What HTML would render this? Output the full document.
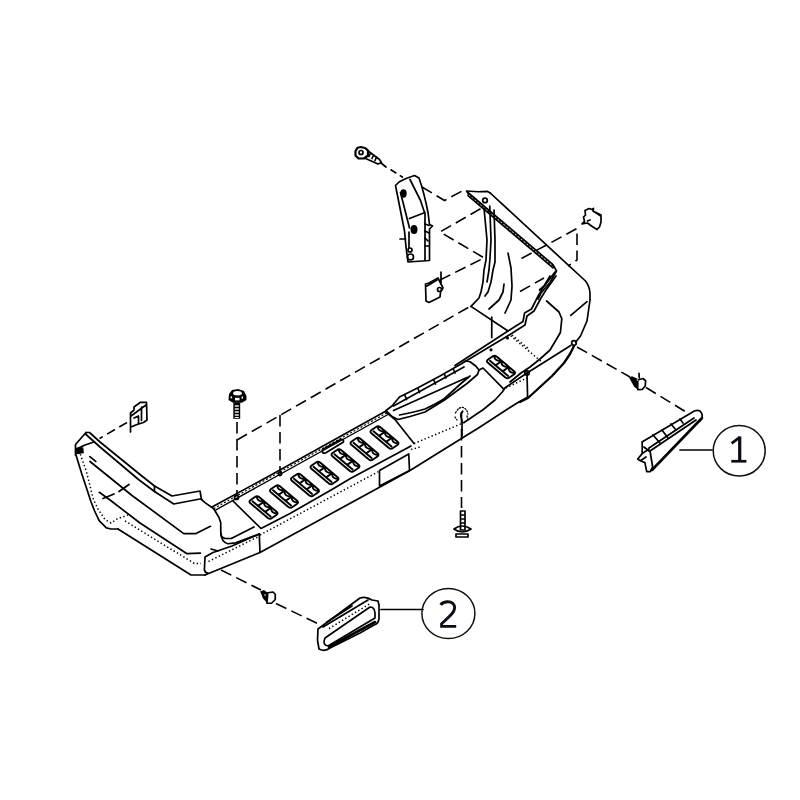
<!DOCTYPE html>
<html><head><meta charset="utf-8"><style>
html,body{margin:0;padding:0;background:#fff;width:800px;height:800px;overflow:hidden}
svg{display:block}
</style></head><body>
<svg width="800" height="800" viewBox="0 0 800 800">
<g fill="none" stroke="#000" stroke-width="1.7" stroke-linejoin="round" stroke-linecap="round">
<!-- LEFT END -->
<path d="M86,432.5 L75.5,444.5 L75.5,455 M76.5,449 L85,445 L94,442"/>
<path d="M76,448.5 L82.5,448 L83,452.5 L77,453.5 Z" fill="#000"/>
<path d="M76,455 L81.5,473 L86.3,487.5 L91,501.8 L94.6,511 L99.3,520.8 L106.4,527.9 L111,529 L118,529"/>
<path d="M118,529 L191,575 L205,575"/>
<path d="M86,432.5 L89.5,432.5 L100,442 L140,474.5 L154.5,486 M85.5,434 L100,447 L138.5,479.5 L154.5,491.5 M154.5,486 L154.5,491.5"/>
<path d="M154.5,486 L172,496 L200,491 L201.5,499.5 M154.5,491.5 L173.75,504 L200,499"/>
<path d="M201.5,499.5 L205,502.6 L213.75,508.75 L219,517.5 L220.75,522.75 L220.75,532.4 L221.6,536.75 L225,538.5 L231.25,538.5 L254,527"/>
<path d="M220.75,533 Q221.5,542 227.75,543.75 L235.6,542.9 L259.25,534"/>
<path d="M89.8,456.6 L95.75,461.4 M90,461.5 L132,495.5 L183.75,533.6 L196,533.6 L210.5,526.3"/>
<path d="M99.3,492.3 L110,500 L140,523 L187,553.7 L200.4,553.2"/>
<path d="M119,491.5 L129,484.5 M103,498.5 L114,494"/>
<path d="M205,557 L204.4,570 Q205,573 208,573 M205,557 L213,552.5 L232,546 L259.25,534 L260,552.5"/>
<path d="M211,549 L218,551"/>
<!-- STEP -->
<path d="M212,507 L270,475.5 L386,411"/>
<path d="M216,509.8 L388,414.5" stroke-width="1.4"/>
<path d="M214,508.4 L387,412.8" stroke-width="1.2" stroke-dasharray="1 3"/>
<path d="M322.5,449.5 L340.5,439.5 Q344,438.5 343.5,442 L325.5,453 Q321.5,454 322.5,449.5 Z"/>
<circle cx="236.5" cy="497.5" r="2"/><circle cx="280" cy="474" r="1.6"/>
<circle cx="527" cy="373" r="2.2"/><circle cx="574" cy="343" r="2.3"/>
<path d="M233,501 L261,528.5 L290,513.5 L332.4,489.3 L350,478.8 L411,446"/>
<path d="M379.5,470.5 L408.75,454 L409.5,470.5 L379.5,486 Z"/>
<path d="M205,575 L260,552.5 L380,487 L410,470.5 L480,427 L510,407.5 L518.75,402 L528,397"/>
<path d="M520,402 L528,398 L540,387 L552,376 L564,363 L570,354 L574,346" stroke-width="2.3"/>
<!-- HANDLE -->
<path d="M386,410.5 L392,406 L399.5,397 L417.5,388 L440,376 L461,364 L465.5,361 L470,361.75 L476,366.25 L479,370 L477.5,374.5 L467,383.5 L444.5,400 L425,412 L410,416.5 L398,419.5 L392,416.5 Z"/>
<path d="M393.5,406 L464,367 M393.5,410.5 L467,377.5 M399.5,415 Q415,412 425,409 Q438,403 444.5,398.5 L461,383.5 L470,376"/>
<path d="M386,412 L395,419.5 L414,443.5"/>
<path d="M464,422.5 L483,409.75 L495,400 L502.5,391.75 L504.75,388 L527,373 L570.75,345.5"/>
<path d="M479,370 L483,368 L504,389.4"/>
<path d="M527,373 L527.6,397.5"/>
<!-- small clip at bolt -->
<path d="M462.75,411.25 Q459.5,414 462,420.5 L462,436"/>
<path d="M455.5,413 Q459,406.5 463,407.5 Q467,409 468,414 M467,416 L468,420 M455,417 L457,420" stroke-width="1.3" stroke-dasharray="1.2 1.8"/>
<!-- STEP REAR RIGHT -->
<path d="M455,365.5 L508,331 L523,321.5 L524.6,313 L531.5,309 L538.4,295.4 L542.5,288.5 L555,272"/>
<path d="M464.75,361.75 L510,334.5 L525,325 L527,316 L534,311 L541,298 L546,290 L556,276"/>
<path d="M418,388.5 L419.5,392.5 M434,380.5 L435.5,384 M444.5,374.5 L446,378 M453.5,369.5 L455,373 M405,395.5 L406.5,399.5"/>
<path d="M471,306.4 L508,331"/>
<path d="M491.75,317 L491.75,337.5"/>
<!-- RIGHT END -->
<path d="M466.5,191 L478.5,191.75 L487.5,191.4 L490.5,193.25"/>
<path d="M490.5,193.25 L585.5,281 Q589.5,286 590,293 L590,300 L587,321 L580.5,336 L575.6,342.25"/>
<path d="M467,191.75 L553,264.6 L556.5,271 L550,282.5 L541,293 L538,299 M468,195.6 L553,267.8"/>
<path d="M467.5,193.7 L553,266.2" stroke-width="1.1" stroke-dasharray="1.2 2.6"/>
<path d="M550,276 L544,286 L539.5,290"/>
<path d="M484,208 L487,240 L486,260 L484,270 L483,282 L481,292 L479,298 L471,306.4 M494,210 L495,240 L495,262 L493,270 L491,282 L488,292 L485,296 M489.75,206 L491,240 L490,258 L489,270 L487,282"/>
<circle cx="485" cy="200.4" r="2.3"/>
<path d="M508,253 L511,268 L512,286 L511,300 L505,313 M504,284 L503,292 L499,300 L489,309"/>
<path d="M546.6,301 L559,312 L561.8,318.8 L560.4,332.5 L556,340 L550,350 L540,359 L530,367 L521,373 L510,382"/>
<path d="M570.75,315.4 L587,301.6"/>
<!-- BRACKET -->
<path d="M395.5,185.5 L399,182 L406,178.5 L414.5,175.5 L419,178 Q424,192 428,212.5 L429.5,224.5 L432.5,226 L429.5,229 L429.5,260.5 L408,262 L406,247 L404.5,231 Z"/>
<path d="M400.5,192.5 L409.5,228 M410,179.5 L420.5,200.5 L425,214 L425,260.5 M409.5,218.5 L425,212.5 M400,239 L405.5,239 M409,232 L409,248"/>
<path d="M425,224 L429,225.5 M425,231 L429,233 M425,238 L428,241 M425,246 L429,246"/>
<circle cx="410.5" cy="257" r="3"/>
<circle cx="410" cy="250" r="2"/>
<!-- MIDDLE CLIP -->
<path d="M425.5,284 L426,301 L429,302.5 L440,297 L440.5,292 L443,288 L441,284 L438,278 L429,283 Z M441,272 L441,284 M427,286 L437,280"/>
<circle cx="439.5" cy="289.5" r="2"/>
<!-- RIGHT CLIP -->
<path d="M585,210.5 L589,208.5 L592,209.5 L593.5,208.3 L593,211 L601,215 L601,222 L599.5,227 L597,229.5 L591.5,226 L587.5,223 L582,223.8 L584.5,221.5 L583.5,217 L585.5,215 Z M587.5,221 L590,220 M593,211 L600,215.5"/>
<!-- TOP SCREW -->
<path d="M355.5,151 L357.5,147.8 L361,147 L365.5,148.2 L368,150.5 L368,155.5 L364,158.5 L358.5,158.5 L355.5,155.5 Z" fill="#fff" stroke-width="2.2"/>
<path d="M367.5,150.5 L379.5,159.5 L381.5,162.5 L378,164 L364.5,158 M370.5,153 L369,156.5 M373.5,155 L372,158.5 M376.5,157 L375,160.5 M381,163 L386,167"/>
<circle cx="361" cy="152.5" r="2"/>
<!-- BOLT BOTTOM -->
<path d="M460.5,511 L460.5,530 L465,530 L465,511 Z M460.5,515 L465,515 M460.5,519 L465,519 M460.5,523 L465,523"/>
<path d="M454,529 Q462,523 471,529 Q462,535 454,529 Z M456,534 L468,534 L468,537 L456,537 Z"/>
<!-- SCREW RIGHT -->
<path d="M637.75,380 L643,378.5 L645.6,380.75 L645.25,386 L642.25,389.4 L637.75,389.75 Z M639,373.25 L639.25,377.75"/>
<!-- SCREW PART2 -->
<path d="M267.75,592.75 L273,592 L275.25,594.25 L275.25,599.5 L271.5,603.25 L267,603.25 Z"/>
<!-- CLIP LEFT -->
<path d="M130.5,432 L130.5,413 L134,410 L134,407 L140.5,402.3 L146.5,402.3 L147,420 L143.5,422.5 L137,424.5 L131,427 M131,416 L146,405 M141.5,407 L141.5,420.5 M134,418 L138.5,416 L138.5,423.5"/>
<!-- REFLECTOR 1 -->
<path d="M642,442 L691,413 Q696,409 700,411 Q703,414 702,418 L700,421 M642.2,441.9 L642.2,453.6 L637.7,459 L640.4,460.8 L644.9,462.6 L646.7,471.6 L650.3,471.6 L652,468 M642.2,453.6 L649,449 M640.4,460.8 L646,457"/>
<path d="M649,448 L694,418 M650,451 L696,420 M650,451 L653,469"/>
<path d="M653,435 L660,443 M662,430 L668,438 M671,424 L676,430 M680,419 L683,423 M644,447 L649,451"/>
<path d="M652,470 L702,418" stroke-width="2.6"/>
<!-- REFLECTOR 2 -->
<path d="M318,629 L360,598 Q366,596 372,600 L378,601 L379,605 L379,619 Q378,624 374,625 L360,633 L330,648 Q325,652 319,649 L317.5,640 Z"/>
<path d="M325,638 L370,607 Q376,607 375,618 L328,646 Q322,645 325,638 Z"/>
<path d="M323,627 L368,600 M327,622 L352,606"/>
<path d="M329,647 L375,622" stroke-width="2.6"/>
<!-- LEADERS -->
<path d="M680,450 L712,450 M381,609.5 L423,609.5"/>

</g>
<g fill="none" stroke="#000" stroke-width="1.9" stroke-linejoin="round" stroke-linecap="round">
<path d="M259.1,497.1 L276.6,511.8 Q278.6,513.5 276.4,515.0 L272.0,518.0 Q269.9,519.5 267.9,517.9 L250.4,503.2 Q248.4,501.5 250.6,500.0 L255.0,497.0 Q257.1,495.5 259.1,497.1 Z M252.5,501.3 L270.6,516.5 M264.3,501.5 L258.0,505.9 M271.4,507.5 L265.1,511.9 M256.9,497.0 Q257.1,501.0 262.2,501.5 M264.0,503.0 Q264.2,507.0 269.4,507.5 M271.2,509.0 Q271.4,513.0 276.5,513.5"/>
<path d="M279.6,486.1 L297.1,500.8 Q299.1,502.5 296.9,504.0 L292.5,507.0 Q290.4,508.5 288.4,506.9 L270.9,492.2 Q268.9,490.5 271.1,489.0 L275.5,486.0 Q277.6,484.5 279.6,486.1 Z M273.0,490.3 L291.1,505.5 M284.8,490.5 L278.5,494.9 M291.9,496.5 L285.6,500.9 M277.4,486.0 Q277.6,490.0 282.7,490.5 M284.5,492.0 Q284.7,496.0 289.9,496.5 M291.7,498.0 Q291.9,502.0 297.0,502.5"/>
<path d="M300.6,474.6 L318.1,489.3 Q320.1,491.0 317.9,492.5 L313.5,495.5 Q311.4,497.0 309.4,495.4 L291.9,480.7 Q289.9,479.0 292.1,477.5 L296.5,474.5 Q298.6,473.0 300.6,474.6 Z M294.0,478.8 L312.1,494.0 M305.8,479.0 L299.5,483.4 M312.9,485.0 L306.6,489.4 M298.4,474.5 Q298.6,478.5 303.7,479.0 M305.5,480.5 Q305.7,484.5 310.9,485.0 M312.7,486.5 Q312.9,490.5 318.0,491.0"/>
<path d="M320.1,462.6 L337.6,477.3 Q339.6,479.0 337.4,480.5 L333.0,483.5 Q330.9,485.0 328.9,483.4 L311.4,468.7 Q309.4,467.0 311.6,465.5 L316.0,462.5 Q318.1,461.0 320.1,462.6 Z M313.5,466.8 L331.6,482.0 M325.3,467.0 L319.0,471.4 M332.4,473.0 L326.1,477.4 M317.9,462.5 Q318.1,466.5 323.2,467.0 M325.0,468.5 Q325.2,472.5 330.4,473.0 M332.2,474.5 Q332.4,478.5 337.5,479.0"/>
<path d="M341.1,450.1 L358.6,464.8 Q360.6,466.5 358.4,468.0 L354.0,471.0 Q351.9,472.5 349.9,470.9 L332.4,456.2 Q330.4,454.5 332.6,453.0 L337.0,450.0 Q339.1,448.5 341.1,450.1 Z M334.5,454.3 L352.6,469.5 M346.3,454.5 L340.0,458.9 M353.4,460.5 L347.1,464.9 M338.9,450.0 Q339.1,454.0 344.2,454.5 M346.0,456.0 Q346.2,460.0 351.4,460.5 M353.2,462.0 Q353.4,466.0 358.5,466.5"/>
<path d="M360.1,438.6 L377.6,453.3 Q379.6,455.0 377.4,456.5 L373.0,459.5 Q370.9,461.0 368.9,459.4 L351.4,444.7 Q349.4,443.0 351.6,441.5 L356.0,438.5 Q358.1,437.0 360.1,438.6 Z M353.5,442.8 L371.6,458.0 M365.3,443.0 L359.0,447.4 M372.4,449.0 L366.1,453.4 M357.9,438.5 Q358.1,442.5 363.2,443.0 M365.0,444.5 Q365.2,448.5 370.4,449.0 M372.2,450.5 Q372.4,454.5 377.5,455.0"/>
<path d="M380.1,427.1 L397.6,441.8 Q399.6,443.5 397.4,445.0 L393.0,448.0 Q390.9,449.5 388.9,447.9 L371.4,433.2 Q369.4,431.5 371.6,430.0 L376.0,427.0 Q378.1,425.5 380.1,427.1 Z M373.5,431.3 L391.6,446.5 M385.3,431.5 L379.0,435.9 M392.4,437.5 L386.1,441.9 M377.9,427.0 Q378.1,431.0 383.2,431.5 M385.0,433.0 Q385.2,437.0 390.4,437.5 M392.2,439.0 Q392.4,443.0 397.5,443.5"/>
<path d="M496.6,356.6 L514.1,371.3 Q516.1,373.0 513.9,374.5 L509.5,377.5 Q507.4,379.0 505.4,377.4 L487.9,362.7 Q485.9,361.0 488.1,359.5 L492.5,356.5 Q494.6,355.0 496.6,356.6 Z M490.0,360.8 L508.1,376.0 M501.8,361.0 L495.5,365.4 M508.9,367.0 L502.6,371.4 M494.4,356.5 Q494.6,360.5 499.7,361.0 M501.5,362.5 Q501.7,366.5 506.9,367.0 M508.7,368.5 Q508.9,372.5 514.0,373.0"/>
</g>
<g fill="none" stroke="#000" stroke-width="1.6" stroke-dasharray="11.5 5.5">
<path d="M390.5,169.5 L403,177.5" stroke-dasharray="7 4"/>
<path d="M422,187 L444.5,200.5 L464,190"/>
<path d="M480.5,208.75 L440,232 L483.5,257.5"/>
<path d="M440,280 L482,259"/>
<path d="M521.5,258.5 L577,228.5 L577,260 L568,266"/>
<path d="M520,291.5 L544,278"/>
<path d="M237,440 L469,307"/>
<path d="M237,422 L237,495"/>
<path d="M280,415 L280,472"/>
<path d="M461.5,412 L461.5,508"/>
<path d="M127,422.5 L99.5,438.5" stroke-dasharray="9 5"/>
<path d="M577,347 L630,377 M646,387.5 L686,412"/>
<path d="M221,570 L261,590 M276,603.5 L319.5,624.5"/>

</g>
<g fill="none" stroke="#000" stroke-width="1.5" stroke-dasharray="1.4 2.4">
<path d="M79,450.7 L86.25,471 L89.8,485 L93.4,499.4 L98,509 L105,519.6 L111,523 L117,519 L128,515"/>
<path d="M125,521 L194.25,563.4 L201,563.4"/>
<path d="M260,535 L379.5,471"/>
<path d="M411,449.5 L420,447"/>
<path d="M414,443.5 L450,428.5 L464,422.5"/>
<path d="M505.75,388 L527,378"/>
<path d="M510.6,335.75 L541.5,361.75"/>
<path d="M512,335 L528.75,349"/>
<path d="M208.5,561.5 L259.5,536"/>
<path d="M329,628.5 L371,603"/>

</g>
<g fill="#000" stroke="none">
<!-- top screw -->
<ellipse cx="403.5" cy="193.5" rx="3.2" ry="4.2"/>
<ellipse cx="414" cy="229.5" rx="3.5" ry="4.5"/>
<!-- bolt left -->
<path d="M229,394 L232,390 L238,389 L244,391 L246.5,396 L246.5,400 L242,402.8 L233,402.8 L228.5,400 Z"/>
<path d="M233.3,402.5 L240.2,402.5 L240.2,418.8 L233.3,418.8 Z"/>
<!-- screw right wedge -->
<path d="M629,377.5 L632,376.3 L638.2,379 L637.8,389.8 L634,386.5 Z"/>
<!-- screw part2 wedge -->
<path d="M260.2,591.5 L264,590 L268,593 L267.2,603 L263,598.5 Z"/>
<circle cx="507.5" cy="338" r="1.6"/>
<circle cx="491" cy="349.8" r="1.6"/>
<g fill="#fff">
<ellipse cx="237.5" cy="393.3" rx="4.3" ry="2.2"/>
<rect x="235" y="397.8" width="4.5" height="2.6"/>
<rect x="230.5" y="396.5" width="1.6" height="1.8"/>
<rect x="241.6" y="396.5" width="1.4" height="2.2"/>
<rect x="234.8" y="405.3" width="4" height="1.4"/>
<rect x="234.8" y="408.3" width="4" height="1.4"/>
<rect x="234.8" y="411.3" width="4" height="1.4"/>
<rect x="234.8" y="414.3" width="4" height="1.4"/>
<rect x="234.8" y="417" width="4" height="1.0"/>
<circle cx="637.4" cy="380" r="0.8"/>
<circle cx="265" cy="595" r="0.8"/>
</g>

</g>
<g fill="none" stroke="#111" stroke-width="1.5">
<ellipse cx="739.2" cy="450.8" rx="26" ry="25.2"/>
<ellipse cx="448.4" cy="613.5" rx="26.5" ry="25"/>
</g>
<g fill="#0b0b1a"><rect x="738.1" y="436.4" width="3.2" height="24.5"/><rect x="731.3" y="459.9" width="15.1" height="2.7"/></g>
<path d="M739.6,437.4 L731.6,443.4" stroke="#0b0b1a" stroke-width="2.7" fill="none"/>
<path d="M440.6,604.8 C442.2,602.6 445,601.7 447.8,601.7 C452,601.7 454.6,604.2 454.6,607.8 C454.6,611.2 452.6,613.6 449.2,616.6 L441.6,623.8 L441.6,626.4 L456.2,626.4" stroke="#0b0b1a" stroke-width="2.9" fill="none"/>
</svg>
</body></html>
